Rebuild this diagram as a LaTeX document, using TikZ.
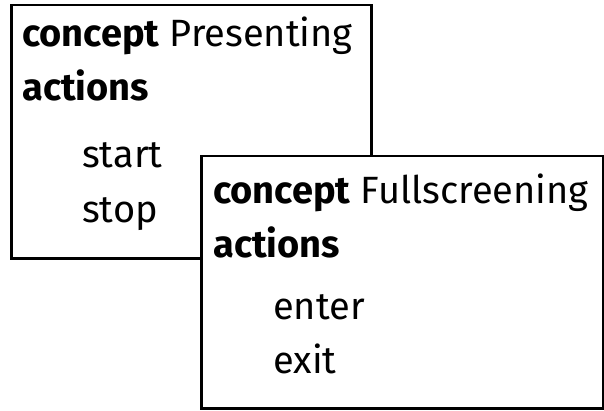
\documentclass[tikz,border=0pt]{standalone}
\usepackage{fontspec}
\setmainfont{Fira Sans}
\begin{document}
\begin{tikzpicture}
[x=1pt,y=1pt,
  boxdecorate/.style={shape=rectangle,draw,line width=2.5pt,fill=white,inner sep=0pt,anchor=north west},
  textdecorate/.style={anchor=base west,inner sep=0pt,font=\fontsize{38}{44}\selectfont}]
\useasboundingbox (0,0) rectangle (604,410);
%%% concept Presenting
% box
\node (pbox) at (10,406) [boxdecorate,minimum width=360pt,minimum height=253pt] {};
% lines of text
\node (pname) at (22,363) [textdecorate] {\textbf{concept} Presenting};
\node (pact) at (22,309) [textdecorate] {\textbf{actions}};
\node (pstart) at (82,242) [textdecorate] {start};
\node (pstop) at (82,188) [textdecorate] {stop};
%
%%% concept Fullscreening
% box
\node (fbox) at (200,255) [boxdecorate,minimum width=402pt,minimum height=252pt] {};
% lines of text
\node (fname) at (213,207) [textdecorate] {\textbf{concept} Fullscreening};
\node (fact) at (213,153) [textdecorate] {\textbf{actions}};
\node (fenter) at (273,91) [textdecorate] {enter};
\node (fexit) at (273,37) [textdecorate] {exit};
\end{tikzpicture}
\end{document}
